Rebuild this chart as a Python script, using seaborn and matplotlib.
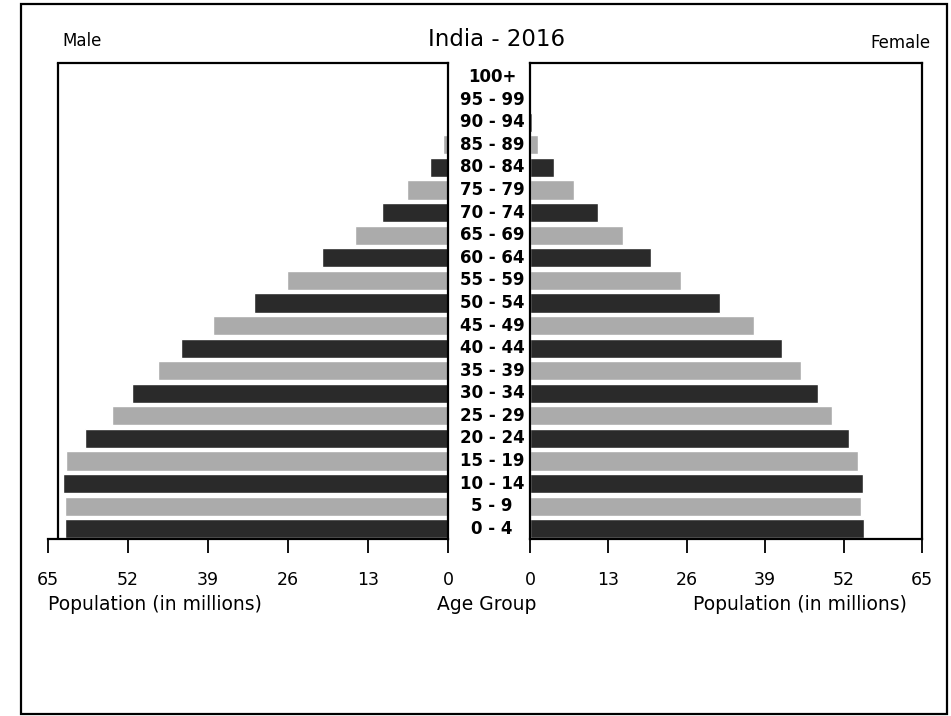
import numpy as np
import pandas as pd
import matplotlib.pyplot as plt
import seaborn as sns
from matplotlib.patches import Rectangle

# Data (millions), bottom to top
age_groups = ["0 - 4", "5 - 9", "10 - 14", "15 - 19", "20 - 24", "25 - 29",
              "30 - 34", "35 - 39", "40 - 44", "45 - 49", "50 - 54", "55 - 59",
              "60 - 64", "65 - 69", "70 - 74", "75 - 79", "80 - 84", "85 - 89",
              "90 - 94", "95 - 99", "100+"]
male = [62.3, 62.3, 62.5, 62.1, 59.0, 54.6, 51.3, 47.2, 43.4, 38.2, 31.6,
        26.1, 20.5, 15.1, 10.7, 6.6, 3.0, 0.8, 0.2, 0.05, 0.01]
female = [55.4, 54.9, 55.2, 54.4, 52.9, 50.1, 47.8, 45.0, 41.8, 37.1, 31.5,
          25.0, 20.1, 15.4, 11.2, 7.3, 3.9, 1.3, 0.3, 0.05, 0.01]
ticks = [0, 13, 26, 39, 52, 65]

sns.set_style("white")
plt.rcParams['font.family'] = ['DejaVu Sans']
plt.rcParams['text.color'] = 'black'

# top-to-bottom order for seaborn's categorical axis
order = age_groups[::-1]
df = pd.DataFrame({"Age": age_groups, "Male": male, "Female": female})
shade = {a: ("#2a2a2a" if i % 2 == 0 else "#ababab") for i, a in enumerate(age_groups)}

fig = plt.figure(figsize=(9.51, 7.16), dpi=100)
ax_l = fig.add_axes([48 / 951, 1 - 539 / 716, 400 / 951, 476 / 716])
ax_r = fig.add_axes([530 / 951, 1 - 539 / 716, 392 / 951, 476 / 716])

for ax, col in [(ax_l, "Male"), (ax_r, "Female")]:
    sns.barplot(data=df, x=col, y="Age", hue="Age", order=order,
                hue_order=order, palette=shade, legend=False,
                width=0.85, orient="h", ax=ax)
    ax.set_ylim(20.45, -0.62)
    ax.set_yticks([])
    ax.set_xlabel("")
    ax.set_ylabel("")
    ax.set_xticks(ticks)
    ax.tick_params(axis="x", direction="out", length=10, width=1.3,
                   labelsize=12.5, pad=13, bottom=True, colors="black")
    for s in ax.spines.values():
        s.set_color("black")
        s.set_linewidth(1.6)

ax_l.set_xlim(65, 0)
ax_r.set_xlim(0, 65)

# left frame edge sits a little inside the axis line
ax_l.spines["left"].set_visible(False)
ax_l.spines["top"].set_bounds(63.3, 0)
ax_l.axvline(63.3, color="black", lw=1.6)

# age labels in the middle column
for i, a in enumerate(order):
    ax_r.text(-0.097, i, a, transform=ax_r.get_yaxis_transform(),
              ha="center", va="center", fontsize=12, fontweight="bold")

fig.text(62 / 951, 1 - 41 / 716, "Male", fontsize=12, ha="left", va="center")
fig.text(930 / 951, 1 - 43 / 716, "Female", fontsize=12, ha="right", va="center")
fig.text(497 / 951, 1 - 40 / 716, "India - 2016", fontsize=16.5, ha="center", va="center")

fig.text(155 / 951, 1 - 605 / 716, "Population (in millions)", fontsize=13.5,
         ha="center", va="center")
fig.text(487 / 951, 1 - 605 / 716, "Age Group", fontsize=13.5,
         ha="center", va="center")
fig.text(800 / 951, 1 - 605 / 716, "Population (in millions)", fontsize=13.5,
         ha="center", va="center")

# outer border of the page
fig.patches.append(Rectangle((21 / 951, 2 / 716), 926 / 951, 710 / 716,
                             transform=fig.transFigure, fill=False,
                             edgecolor="black", lw=1.6))

fig.savefig("out.png", dpi=100)
plt.close()
